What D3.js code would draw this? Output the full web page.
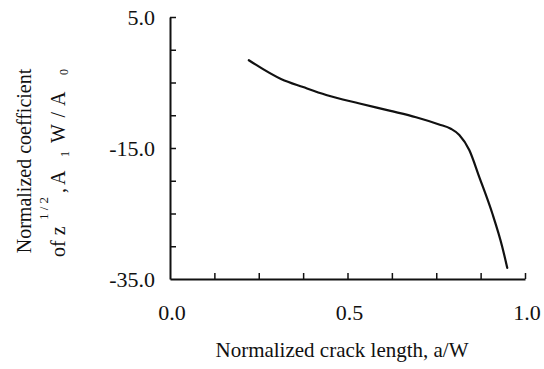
<!DOCTYPE html>
<html>
<head>
<meta charset="utf-8">
<script src="https://cdn.jsdelivr.net/npm/d3@7"></script>
<style>
  html, body { margin: 0; padding: 0; background: #fff; }
  svg { display: block; }
  text { font-family: "Liberation Serif", "Times New Roman", serif; fill: #111; }
</style>
</head>
<body>
<svg id="chart" width="544" height="369"></svg>
<script>
// ---- data ----
const crackLength = [0.222, 0.314, 0.375, 0.44, 0.534, 0.618, 0.693, 0.758, 0.791, 0.815, 0.843, 0.871, 0.908, 0.936, 0.95];
const coefficient = [-1.6, -4.5, -5.7, -6.9, -8.2, -9.3, -10.3, -11.4, -12.05, -13.0, -15.3, -19.4, -25.0, -30.1, -33.3];
const xTickValues = [0.125, 0.25, 0.375, 0.5, 0.625, 0.75, 0.875, 1.0];
const xLabelValues = [0.0, 0.5, 1.0];
const xLabelTexts = ["0.0", "0.5", "1.0"];
const yTickValues = [0, -5, -10, -15, -20, -25, -30, 5];
const yLabelValues = [5, -15, -35];
const yLabelTexts = ["5.0", "-15.0", "-35.0"];

const svg = d3.select("#chart");
const mLeft = 170, mRight = 525, mTop = 17, mBottom = 279;

const x = d3.scaleLinear().domain([0, 1]).range([mLeft, mRight]);
const y = d3.scaleLinear().domain([-35, 5]).range([mBottom, mTop]);

// axes
const xAxis = d3.axisBottom(x).tickValues(xTickValues).tickSizeInner(-6).tickSizeOuter(0).tickFormat("");
const gx = svg.append("g").attr("transform", `translate(0,${mBottom})`).call(xAxis);
const yAxis = d3.axisLeft(y).tickValues(yTickValues).tickSizeInner(-6).tickSizeOuter(0).tickFormat("");
const gy = svg.append("g").attr("transform", `translate(${mLeft},0)`).call(yAxis);
[gx, gy].forEach(g => {
  g.selectAll("path.domain").attr("stroke", "#111").attr("stroke-width", 2);
  g.selectAll(".tick line").attr("stroke", "#111").attr("stroke-width", 1.5);
});

// tick labels
svg.append("g").selectAll("text").data(xLabelValues).join("text")
  .attr("x", d => x(d) + 2).attr("y", 320)
  .attr("text-anchor", "middle").attr("font-size", 22)
  .text((d, i) => xLabelTexts[i]);

svg.append("g").selectAll("text").data(yLabelValues).join("text")
  .attr("x", 155).attr("y", d => y(d) + 7.5)
  .attr("text-anchor", "end").attr("font-size", 22)
  .text((d, i) => yLabelTexts[i]);

// curve
const pts = crackLength.map((a, i) => [a, coefficient[i]]);
svg.append("path").datum(pts)
  .attr("fill", "none").attr("stroke", "#111").attr("stroke-width", 2.2)
  .attr("stroke-linecap", "round")
  .attr("d", d3.line().x(d => x(d[0])).y(d => y(d[1])).curve(d3.curveMonotoneX));

// x axis title
svg.append("text").attr("x", 342).attr("y", 357)
  .attr("text-anchor", "middle").attr("font-size", 21)
  .text("Normalized crack length, a/W");

// y axis title (two lines, rotated)
const yt = svg.append("g").attr("transform", "translate(0,161) rotate(-90)");
yt.append("text").attr("x", 0).attr("y", 31)
  .attr("text-anchor", "middle").attr("font-size", 20)
  .text("Normalized coefficient");
const l2 = yt.append("text").attr("y", 65).attr("font-size", 20);
l2.append("tspan").attr("x", -96).text("of z");
l2.append("tspan").attr("x", -59).attr("y", 48).attr("font-size", 13).text("1 / 2");
l2.append("tspan").attr("x", -32).attr("y", 65).text(",");
l2.append("tspan").attr("x", -24).attr("y", 65).text("A");
l2.append("tspan").attr("x", 4).attr("y", 69).attr("font-size", 12).text("1");
l2.append("tspan").attr("x", 18).attr("y", 65).attr("word-spacing", 2).text("W / A");
l2.append("tspan").attr("x", 86).attr("y", 68).attr("font-size", 12).text("0");
</script>
</body>
</html>
